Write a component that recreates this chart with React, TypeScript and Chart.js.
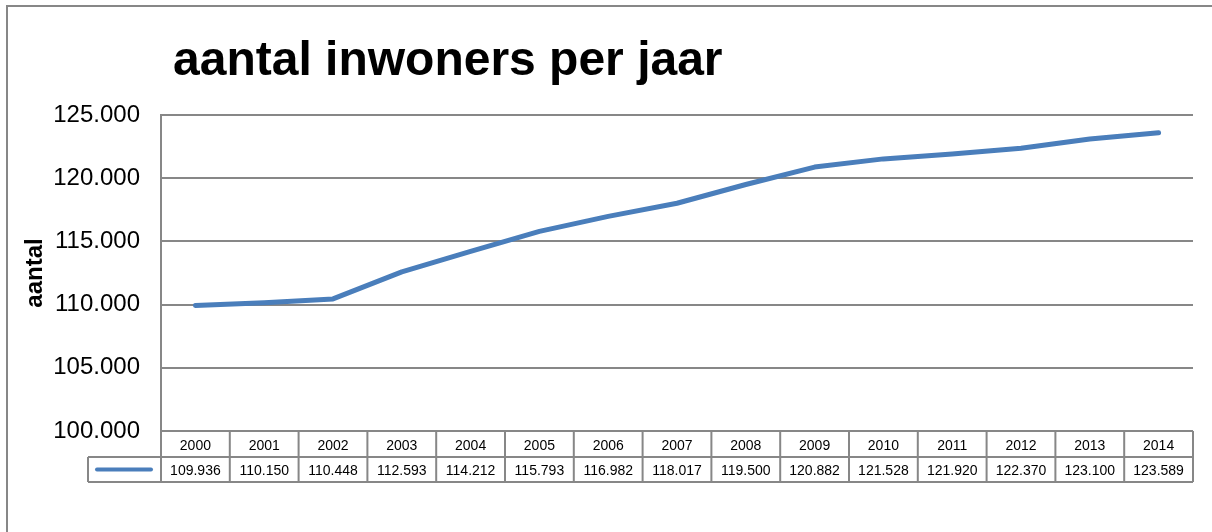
import React, { useEffect, useRef } from "react";
import { Chart, registerables } from "chart.js";

Chart.register(...registerables);

const titleText = "aantal inwoners per jaar";
const yAxisTitle = "aantal";
const years = ["2000", "2001", "2002", "2003", "2004", "2005", "2006", "2007", "2008", "2009", "2010", "2011", "2012", "2013", "2014"];
const inhabitants = [109936, 110150, 110448, 112593, 114212, 115793, 116982, 118017, 119500, 120882, 121528, 121920, 122370, 123100, 123589];
const yMin = 100000;
const yMax = 125000;
const yStep = 5000;

const LINE_COLOR = "#4a7ebb";
const GRID_COLOR = "#878787";
const FONT = '"Liberation Sans", Arial, sans-serif';

function fmt(v: number): string {
  const n = Math.round(v);
  const th = Math.floor(n / 1000);
  const rest = n % 1000;
  return th + "." + String(rest).padStart(3, "0");
}

const decorPlugin = {
  id: "decor",
  beforeDraw(chart: any) {
    const ctx = chart.ctx;
    ctx.save();
    ctx.strokeStyle = GRID_COLOR;
    ctx.lineWidth = 2;
    ctx.beginPath();
    ctx.moveTo(7, 540);
    ctx.lineTo(7, 6);
    ctx.lineTo(1220, 6);
    ctx.stroke();
    // title
    ctx.fillStyle = "#000";
    ctx.font = "bold 48px " + FONT;
    ctx.textAlign = "left";
    ctx.textBaseline = "alphabetic";
    ctx.fillText(titleText, 173, 75);
    // y axis title
    const area = chart.chartArea;
    ctx.save();
    ctx.translate(42, (area.top + area.bottom) / 2);
    ctx.rotate(-Math.PI / 2);
    ctx.font = "bold 24px " + FONT;
    ctx.textAlign = "center";
    ctx.textBaseline = "alphabetic";
    ctx.fillText(yAxisTitle, 0, 0);
    ctx.restore();
    ctx.restore();
  },
  afterDraw(chart: any) {
    const ctx = chart.ctx;
    const x = chart.scales.x;
    const area = chart.chartArea;
    const step = x.getPixelForValue(1) - x.getPixelForValue(0);
    const top = area.bottom;
    const mid = top + 26;
    const bot = mid + 25;
    const left = area.left;
    const right = x.getPixelForValue(years.length - 1) + step / 2;
    const legendLeft = 88;
    ctx.save();
    ctx.strokeStyle = GRID_COLOR;
    ctx.lineWidth = 2;
    ctx.beginPath();
    ctx.moveTo(legendLeft, mid);
    ctx.lineTo(right, mid);
    ctx.moveTo(legendLeft, bot);
    ctx.lineTo(right, bot);
    ctx.moveTo(legendLeft, mid);
    ctx.lineTo(legendLeft, bot);
    ctx.moveTo(left, top);
    ctx.lineTo(left, bot);
    for (let i = 0; i < years.length; i++) {
      const xr = x.getPixelForValue(i) + step / 2;
      ctx.moveTo(xr, top);
      ctx.lineTo(xr, bot);
    }
    ctx.stroke();
    // legend key
    ctx.strokeStyle = LINE_COLOR;
    ctx.lineWidth = 4;
    ctx.lineCap = "round";
    ctx.beginPath();
    ctx.moveTo(legendLeft + 9, (mid + bot) / 2);
    ctx.lineTo(left - 10, (mid + bot) / 2);
    ctx.stroke();
    // text
    ctx.fillStyle = "#000";
    ctx.font = "14px " + FONT;
    ctx.textAlign = "center";
    ctx.textBaseline = "middle";
    for (let i = 0; i < years.length; i++) {
      const cx = x.getPixelForValue(i);
      ctx.fillText(years[i], cx, top + 15);
      ctx.fillText(fmt(inhabitants[i]), cx, mid + 14);
    }
    ctx.restore();
  },
};

export default function App() {
  const ref = useRef<HTMLCanvasElement | null>(null);
  useEffect(() => {
    if (!ref.current) return;
    const chart = new Chart(ref.current, {
      type: "line",
      data: {
        labels: years,
        datasets: [
          {
            label: "aantal",
            data: inhabitants,
            borderColor: LINE_COLOR,
            backgroundColor: LINE_COLOR,
            borderWidth: 5,
            pointRadius: 0,
            pointHoverRadius: 0,
            tension: 0,
            borderCapStyle: "round",
            borderJoinStyle: "round",
          },
        ],
      },
      options: {
        responsive: false,
        animation: false,
        events: [],
        layout: { padding: { left: 0, top: 115, right: 19, bottom: 101 } },
        plugins: {
          legend: { display: false },
          title: { display: false },
          tooltip: { enabled: false },
        },
        scales: {
          x: {
            type: "category",
            offset: true,
            display: false,
          },
          y: {
            min: yMin,
            max: yMax,
            afterFit(scale: any) {
              scale.width = 161;
            },
            border: { display: true, color: GRID_COLOR, width: 2 },
            grid: { color: GRID_COLOR, lineWidth: 2, drawTicks: false },
            ticks: {
              stepSize: yStep,
              padding: 21,
              color: "#000",
              font: { family: FONT, size: 24 },
              callback: (v: any) => fmt(Number(v)),
            },
          },
        },
      },
      plugins: [decorPlugin],
    });
    return () => chart.destroy();
  }, []);
  return (
    <div style={{ position: "fixed", left: 0, top: 0, width: 1212, height: 532, background: "#fff" }}>
      <canvas ref={ref} width={1212} height={532} style={{ display: "block" }} />
    </div>
  );
}
